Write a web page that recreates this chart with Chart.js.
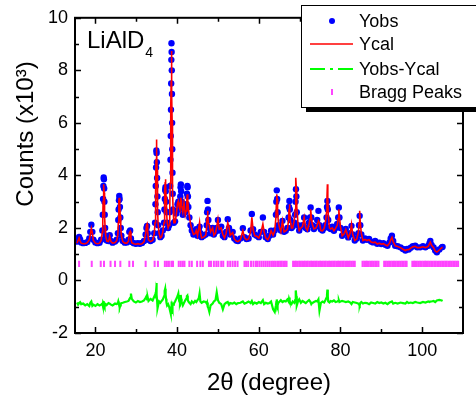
<!DOCTYPE html>
<html>
<head>
<meta charset="utf-8">
<script src="https://cdn.jsdelivr.net/npm/chart.js@4.4.1/dist/chart.umd.min.js"></script>
<style>
    body { margin: 0; background: #fff; }
    canvas { display: block; }
</style>
</head>
<body>
<canvas id="xrdChart" width="476" height="400"></canvas>
<script>
var twoTheta = [
    15.5, 15.75, 16.0, 16.25, 16.5, 17.0, 17.5, 18.0, 18.5, 18.75,
    19.0, 19.25, 19.5, 20.0, 20.5, 21.0, 21.4, 21.7, 21.8, 21.88,
    21.95, 22.02, 22.08, 22.14, 22.2, 22.28, 22.38, 22.5, 22.8, 23.2,
    23.5, 23.8, 24.2, 24.8, 25.2, 25.5, 25.6, 25.68, 25.76, 25.84,
    25.92, 26.0, 26.1, 26.2, 26.35, 26.7, 27.2, 27.7, 28.1, 28.3,
    28.5, 28.7, 28.9, 29.4, 29.9, 30.4, 30.9, 31.4, 31.9, 32.3,
    32.5, 32.65, 32.8, 33.0, 33.5, 34.0, 34.4, 34.6, 34.7, 34.78,
    34.85, 34.92, 34.98, 35.04, 35.1, 35.17, 35.25, 35.35, 35.6, 35.9,
    36.2, 36.5, 36.8, 36.9, 37.0, 37.08, 37.15, 37.22, 37.3, 37.4,
    37.55, 37.8, 38.05, 38.2, 38.3, 38.38, 38.45, 38.5, 38.55, 38.59,
    38.62, 38.66, 38.7, 38.74, 38.78, 38.82, 38.87, 38.93, 39.0, 39.2,
    39.5, 39.8, 40.1, 40.3, 40.5, 40.7, 40.78, 40.85, 40.92, 41.0,
    41.1, 41.4, 41.7, 42.0, 42.2, 42.35, 42.42, 42.5, 42.57, 42.65,
    42.75, 43.0, 43.3, 43.6, 44.0, 44.4, 44.7, 45.0, 45.3, 45.5,
    45.7, 46.0, 46.5, 47.0, 47.25, 47.35, 47.45, 47.55, 47.65, 47.9,
    48.2, 48.7, 49.0, 49.4, 49.7, 50.0, 50.3, 50.8, 51.2, 51.6,
    52.0, 52.4, 52.7, 53.0, 53.6, 54.0, 54.5, 54.9, 55.5, 56.1,
    56.5, 57.0, 57.5, 58.0, 58.3, 58.6, 59.0, 59.5, 60.0, 60.5,
    61.0, 61.3, 61.7, 62.2, 62.6, 63.0, 63.5, 63.9, 64.2, 64.3,
    64.4, 64.5, 64.6, 64.8, 65.1, 65.4, 65.8, 66.2, 66.6, 67.0,
    67.3, 67.4, 67.5, 67.6, 67.7, 68.0, 68.3, 68.7, 68.9, 69.0,
    69.1, 69.2, 69.3, 69.6, 69.9, 70.3, 70.7, 71.1, 71.5, 71.9,
    72.3, 72.55, 72.7, 72.85, 73.1, 73.5, 74.0, 74.3, 74.6, 74.85,
    75.2, 75.6, 76.0, 76.3, 76.6, 76.7, 76.8, 76.9, 77.0, 77.3,
    77.6, 78.0, 78.4, 78.8, 79.2, 79.45, 79.6, 79.75, 80.0, 80.4,
    80.9, 81.3, 81.9, 82.4, 82.7, 83.0, 83.5, 84.0, 84.4, 84.55,
    84.7, 84.85, 85.1, 85.5, 86.0, 86.5, 87.0, 87.5, 88.0, 88.5,
    89.0, 89.5, 90.0, 90.5, 91.0, 91.5, 92.0, 92.3, 92.6, 92.9,
    93.4, 94.0, 94.7, 95.3, 95.9, 96.3, 96.7, 97.2, 97.7, 98.3,
    98.8, 99.5, 100.2, 100.8, 101.5, 101.8, 102.0, 102.3, 102.8, 103.2,
    103.6, 104.2, 104.8, 105.0
];

var yObs = [
    1.48, 1.55, 1.66, 1.56, 1.45, 1.42, 1.43, 1.46, 1.60, 1.85,
    2.12, 1.85, 1.55, 1.45, 1.42, 1.44, 1.55, 1.90, 2.50, 3.10,
    3.60, 3.92, 3.85, 3.50, 3.00, 2.50, 2.00, 1.70, 1.52, 1.50,
    1.72, 1.50, 1.44, 1.48, 1.55, 1.80, 2.30, 2.70, 3.05, 3.22,
    3.10, 2.80, 2.40, 2.00, 1.70, 1.50, 1.44, 1.45, 1.55, 1.85,
    1.90, 1.60, 1.46, 1.42, 1.40, 1.42, 1.40, 1.43, 1.50, 1.75,
    2.00, 2.08, 1.80, 1.55, 1.50, 1.55, 1.80, 2.20, 2.90, 3.60,
    4.30, 4.95, 4.85, 4.50, 3.90, 3.20, 2.60, 2.10, 1.80, 1.65,
    1.70, 1.90, 2.20, 2.70, 3.10, 3.45, 3.55, 3.40, 3.00, 2.60,
    2.20, 2.00, 2.10, 2.60, 3.60, 4.60, 5.50, 6.50, 7.50, 8.40,
    9.03, 8.70, 8.00, 7.10, 6.00, 5.00, 4.10, 3.30, 2.70, 2.20,
    2.25, 2.55, 2.90, 3.00, 2.70, 2.80, 3.20, 3.55, 3.66, 3.40,
    3.00, 2.50, 2.90, 2.60, 2.70, 2.90, 3.30, 3.60, 3.55, 3.20,
    2.80, 2.40, 2.10, 1.90, 1.75, 1.80, 1.95, 1.70, 1.95, 2.05,
    1.80, 1.65, 1.70, 1.75, 2.10, 2.60, 3.03, 2.70, 2.30, 2.00,
    1.80, 2.00, 1.75, 1.85, 2.00, 2.30, 1.90, 2.05, 1.70, 1.65,
    1.85, 2.33, 2.00, 1.75, 1.85, 1.60, 1.52, 1.50, 1.60, 1.99,
    1.65, 1.58, 1.60, 1.90, 2.53, 1.95, 1.75, 1.70, 1.65, 1.85,
    2.40, 1.85, 1.65, 1.58, 1.70, 1.89, 1.75, 1.90, 2.50, 3.00,
    3.43, 3.10, 2.60, 2.10, 2.00, 1.90, 2.27, 1.85, 1.89, 2.00,
    2.40, 2.80, 3.03, 2.70, 2.30, 2.00, 2.05, 2.20, 2.50, 3.00,
    3.47, 3.20, 2.60, 2.10, 1.90, 2.05, 2.10, 2.40, 2.00, 1.95,
    2.20, 2.40, 2.78, 2.40, 2.10, 1.96, 2.05, 2.30, 2.65, 2.10,
    1.95, 1.90, 2.00, 2.10, 2.40, 2.80, 3.03, 2.70, 2.30, 2.00,
    1.96, 2.05, 1.89, 2.00, 2.15, 2.40, 2.78, 2.40, 2.00, 1.70,
    1.80, 1.96, 1.64, 1.80, 2.08, 1.75, 1.52, 1.60, 1.80, 2.10,
    2.46, 2.10, 1.75, 1.52, 1.60, 1.55, 1.58, 1.48, 1.45, 1.50,
    1.40, 1.44, 1.39, 1.42, 1.36, 1.32, 1.45, 1.60, 1.70, 1.50,
    1.32, 1.30, 1.26, 1.20, 1.14, 1.20, 1.18, 1.25, 1.30, 1.32,
    1.26, 1.26, 1.30, 1.26, 1.32, 1.42, 1.50, 1.35, 1.26, 1.14,
    1.07, 1.18, 1.26, 1.28
];

var yCal = [
    1.42, 1.52, 1.62, 1.50, 1.42, 1.40, 1.40, 1.44, 1.55, 1.75,
    1.98, 1.80, 1.52, 1.42, 1.40, 1.42, 1.52, 1.85, 2.40, 3.00,
    3.45, 3.66, 3.60, 3.35, 2.90, 2.45, 2.00, 1.70, 1.50, 1.48,
    1.68, 1.48, 1.42, 1.44, 1.52, 1.75, 2.20, 2.65, 3.00, 3.15,
    3.10, 2.85, 2.45, 2.05, 1.72, 1.48, 1.42, 1.42, 1.50, 1.80,
    1.86, 1.58, 1.44, 1.40, 1.38, 1.40, 1.38, 1.40, 1.47, 1.78,
    2.10, 2.15, 1.85, 1.55, 1.48, 1.52, 1.78, 2.20, 3.00, 3.80,
    4.60, 5.37, 5.30, 4.90, 4.20, 3.40, 2.70, 2.15, 1.78, 1.62,
    1.66, 1.85, 2.20, 2.90, 3.40, 3.75, 3.85, 3.60, 3.20, 2.70,
    2.25, 2.00, 2.10, 2.70, 3.70, 4.70, 5.60, 6.60, 7.60, 8.40,
    8.74, 8.60, 8.00, 7.10, 6.10, 5.10, 4.20, 3.40, 2.80, 2.20,
    2.20, 2.50, 2.95, 3.03, 2.80, 2.70, 2.95, 3.10, 3.15, 3.05,
    2.85, 2.60, 2.97, 2.50, 2.65, 2.80, 3.10, 3.28, 3.25, 3.05,
    2.75, 2.45, 2.15, 1.95, 1.75, 1.78, 1.90, 1.70, 2.00, 2.20,
    1.85, 1.62, 1.65, 1.72, 2.05, 2.40, 2.65, 2.50, 2.20, 2.10,
    1.85, 2.00, 1.72, 1.80, 2.05, 2.33, 1.95, 2.00, 1.75, 1.62,
    1.80, 2.20, 2.05, 1.72, 1.82, 1.58, 1.50, 1.48, 1.55, 1.89,
    1.62, 1.55, 1.58, 1.85, 2.40, 1.95, 1.70, 1.68, 1.62, 1.80,
    2.15, 1.85, 1.62, 1.55, 1.68, 1.89, 1.72, 1.88, 2.40, 2.90,
    3.28, 3.10, 2.60, 2.20, 2.00, 1.85, 2.27, 1.85, 1.89, 1.95,
    2.30, 2.70, 2.90, 2.70, 2.30, 2.00, 2.00, 2.30, 2.70, 3.40,
    3.91, 3.50, 2.80, 2.15, 1.90, 2.00, 2.05, 2.40, 2.00, 1.90,
    2.15, 2.35, 2.71, 2.45, 2.15, 1.96, 2.00, 2.10, 2.27, 2.20,
    1.90, 1.89, 1.98, 2.20, 2.60, 3.20, 3.66, 3.10, 2.50, 2.00,
    1.96, 2.00, 1.89, 1.98, 2.10, 2.35, 2.71, 2.40, 2.05, 1.70,
    1.78, 1.94, 1.62, 1.82, 2.14, 1.75, 1.52, 1.58, 1.85, 2.20,
    2.65, 2.20, 1.80, 1.52, 1.56, 1.52, 1.55, 1.46, 1.44, 1.46,
    1.39, 1.42, 1.38, 1.40, 1.35, 1.32, 1.42, 1.55, 1.64, 1.48,
    1.32, 1.29, 1.25, 1.19, 1.14, 1.18, 1.17, 1.23, 1.28, 1.30,
    1.25, 1.25, 1.28, 1.25, 1.30, 1.40, 1.46, 1.34, 1.25, 1.12,
    1.08, 1.16, 1.25, 1.26
];

var yDiff = [
    -0.84, -0.92, -0.86, -0.83, -0.90, -0.88, -0.95, -0.90, -0.97, -0.85,
    -0.80, -0.96, -0.92, -0.97, -0.90, -0.95, -0.92, -0.88, -0.95, -0.85,
    -0.80, -0.78, -0.90, -1.02, -1.05, -0.98, -0.95, -0.90, -0.93, -0.86,
    -0.88, -0.92, -0.95, -0.88, -0.90, -0.86, -0.80, -0.84, -0.88, -0.92,
    -1.00, -1.02, -0.95, -0.90, -0.86, -0.85, -0.82, -0.80, -0.78, -0.72,
    -0.66, -0.50, -0.70, -0.80, -0.84, -0.78, -0.82, -0.80, -0.76, -0.66,
    -0.60, -0.72, -0.64, -0.78, -0.70, -0.76, -0.62, -0.55, -0.45, -0.60,
    -0.40, -0.10, -0.35, -0.55, -0.75, -0.90, -1.05, -0.95, -0.80, -0.85,
    -0.78, -0.72, -0.60, -0.50, -0.40, -0.32, -0.45, -0.55, -0.70, -0.85,
    -0.95, -0.90, -1.00, -1.10, -1.15, -1.20, -1.05, -1.25, -1.10, -0.95,
    -0.80, -1.00, -1.27, -1.15, -1.05, -1.10, -1.00, -0.95, -0.92, -0.88,
    -0.80, -0.70, -0.60, -0.50, -0.78, -0.85, -0.80, -0.62, -0.55, -0.70,
    -0.82, -0.95, -0.85, -0.75, -0.70, -0.65, -0.60, -0.58, -0.66, -0.74,
    -0.80, -0.85, -0.90, -0.80, -0.86, -0.78, -0.82, -0.75, -0.68, -0.50,
    -0.80, -0.85, -0.80, -0.82, -0.88, -0.84, -0.90, -1.00, -1.05, -1.20,
    -0.95, -0.88, -0.80, -0.75, -0.45, -0.75, -0.85, -0.90, -1.10, -0.90,
    -0.85, -0.82, -0.92, -0.86, -0.88, -0.84, -0.90, -0.86, -0.85, -0.80,
    -0.88, -0.85, -0.80, -0.86, -0.78, -0.90, -0.84, -0.88, -0.82, -0.86,
    -0.75, -0.90, -0.85, -0.88, -0.86, -0.80, -1.10, -1.20, -0.95, -0.82,
    -0.72, -0.88, -0.95, -0.85, -0.80, -0.75, -0.82, -0.78, -0.80, -0.72,
    -0.80, -0.70, -0.65, -0.78, -0.85, -0.90, -0.80, -0.85, -0.75, -0.55,
    -0.38, -0.60, -0.95, -0.80, -0.72, -0.85, -0.78, -0.82, -0.86, -0.80,
    -0.75, -0.80, -0.84, -0.90, -0.86, -0.82, -0.78, -0.80, -0.72, -1.15,
    -0.85, -0.80, -0.84, -0.75, -0.65, -0.55, -0.35, -0.60, -0.80, -0.84,
    -0.78, -0.80, -0.76, -0.82, -0.80, -0.78, -0.75, -0.82, -0.80, -0.78,
    -0.80, -0.82, -0.80, -0.84, -0.90, -0.82, -0.84, -0.86, -0.88, -0.92,
    -0.95, -0.86, -0.82, -0.88, -0.85, -0.86, -0.90, -0.84, -0.86, -0.88,
    -0.82, -0.86, -0.84, -0.88, -0.85, -0.90, -0.84, -0.82, -0.80, -0.88,
    -0.85, -0.88, -0.84, -0.86, -0.88, -0.82, -0.86, -0.84, -0.86, -0.82,
    -0.84, -0.86, -0.82, -0.84, -0.80, -0.82, -0.80, -0.80, -0.78, -0.82,
    -0.76, -0.74, -0.76, -0.78
];

var braggPeaks = [
    16.0, 19.1, 21.3, 22.1, 23.7, 24.8, 26.1, 28.3, 29.2, 32.3,
    34.5, 35.3, 37.0, 37.5, 38.0, 38.6, 39.0, 40.4, 40.9, 41.4,
    41.8, 43.0, 43.6, 44.9, 45.7, 46.3, 47.8, 48.3, 49.0, 49.6,
    50.1, 50.8, 51.3, 52.4, 53.0, 53.6, 54.2, 54.8, 56.5, 56.9,
    57.4, 58.1, 58.7, 59.3, 59.7, 60.2, 60.7, 61.2, 61.7, 62.2,
    62.7, 63.2, 63.6, 64.0, 64.5, 64.9, 65.3, 65.6, 66.0, 66.4,
    66.8, 68.4, 68.8, 69.1, 69.5, 69.9, 70.2, 70.6, 71.0, 71.3,
    71.7, 72.0, 72.4, 72.8, 73.1, 73.5, 73.9, 74.2, 74.6, 75.0,
    75.3, 75.7, 76.1, 76.4, 76.8, 77.2, 77.5, 77.9, 78.3, 78.6,
    79.0, 79.4, 79.7, 80.1, 80.5, 80.8, 81.2, 81.6, 82.0, 82.3,
    82.7, 83.1, 83.5, 85.4, 85.8, 86.2, 86.5, 86.9, 87.3, 87.7,
    88.1, 88.5, 88.9, 89.3, 90.7, 91.1, 91.5, 91.9, 92.3, 92.7,
    93.1, 93.5, 93.9, 94.3, 94.7, 95.1, 95.5, 95.9, 96.2, 97.6,
    98.0, 98.3, 98.7, 99.1, 99.5, 99.9, 100.3, 100.7, 101.0, 101.4,
    101.8, 102.2, 102.6, 103.0, 103.3, 103.7, 104.1, 104.5, 104.9, 105.3,
    105.7, 106.0, 106.4, 106.8, 107.2, 107.6, 108.0, 108.4, 108.8
];
var braggLevel = 0.63;

var xMajorTicks = [20, 40, 60, 80, 100];
var xMinorTicks = [30, 50, 70, 90];
var yMajorTicks = [-2, 0, 2, 4, 6, 8, 10];
var yMinorTicks = [-1, 1, 3, 5, 7, 9];

var legendItems = ["Yobs", "Ycal", "Yobs-Ycal", "Bragg Peaks"];

var fontName = "'Liberation Sans', Arial, sans-serif";

function toPoints(xs, ys) {
    return xs.map(function (x, i) { return { x: x, y: ys[i] }; });
}

var framePlugin = {
    id: "frame",
    afterDraw: function (chart) {
        var ctx = chart.ctx;
        var area = chart.chartArea;
        var xs = chart.scales.x;
        var ys = chart.scales.y;

        ctx.save();
        ctx.strokeStyle = "#000";
        ctx.lineWidth = 2;
        ctx.strokeRect(area.left, area.top, area.right - area.left, area.bottom - area.top);

        ctx.lineWidth = 1.5;
        ctx.beginPath();
        xMajorTicks.concat(xMinorTicks).forEach(function (v) {
            var len = xMajorTicks.indexOf(v) >= 0 ? 6 : 4;
            var px = Math.round(xs.getPixelForValue(v)) + 0.5;
            ctx.moveTo(px, area.bottom);
            ctx.lineTo(px, area.bottom - len);
            ctx.moveTo(px, area.top);
            ctx.lineTo(px, area.top + len);
        });
        yMajorTicks.concat(yMinorTicks).forEach(function (v) {
            var len = yMajorTicks.indexOf(v) >= 0 ? 6 : 4;
            var py = Math.round(ys.getPixelForValue(v)) + 0.5;
            ctx.moveTo(area.left, py);
            ctx.lineTo(area.left + len, py);
            ctx.moveTo(area.right, py);
            ctx.lineTo(area.right - len, py);
        });
        ctx.stroke();

        // axis titles
        ctx.fillStyle = "#000";
        ctx.font = "24px " + fontName;
        ctx.textAlign = "center";
        ctx.textBaseline = "alphabetic";
        ctx.fillText("2\u03b8 (degree)", (area.left + area.right) / 2, 390);
        ctx.save();
        ctx.translate(33, 134);
        ctx.rotate(-Math.PI / 2);
        ctx.fillText("Counts (x10\u00b3)", 0, 0);
        ctx.restore();

        // sample name
        ctx.textAlign = "left";
        ctx.font = "24px " + fontName;
        ctx.fillText("LiAlD", 87, 48);
        var w = ctx.measureText("LiAlD").width;
        ctx.font = "14px " + fontName;
        ctx.fillText("4", 87 + w + 1, 57);

        // legend box with shadow
        ctx.fillStyle = "#000";
        ctx.fillRect(306, 10, 200, 102);
        ctx.fillStyle = "#fff";
        ctx.fillRect(301, 5, 200, 102);
        ctx.lineWidth = 1;
        ctx.strokeRect(301.5, 5.5, 200, 102);

        var rows = [21, 44, 69, 92];
        ctx.fillStyle = "#0000ff";
        ctx.beginPath();
        ctx.arc(332, rows[0], 3, 0, Math.PI * 2);
        ctx.fill();

        ctx.strokeStyle = "#ff0000";
        ctx.lineWidth = 1.5;
        ctx.beginPath();
        ctx.moveTo(310, rows[1]);
        ctx.lineTo(353, rows[1]);
        ctx.stroke();

        ctx.strokeStyle = "#00ff00";
        ctx.lineWidth = 2;
        ctx.setLineDash([15, 5, 3, 5]);
        ctx.beginPath();
        ctx.moveTo(310, rows[2]);
        ctx.lineTo(353, rows[2]);
        ctx.stroke();
        ctx.setLineDash([]);

        ctx.strokeStyle = "#ff44ff";
        ctx.lineWidth = 2;
        ctx.beginPath();
        ctx.moveTo(332, rows[3] - 3);
        ctx.lineTo(332, rows[3] + 3);
        ctx.stroke();

        ctx.fillStyle = "#000";
        ctx.font = "18px " + fontName;
        ctx.textBaseline = "middle";
        legendItems.forEach(function (t, i) {
            ctx.fillText(t, 359, rows[i] + 1);
        });
        ctx.restore();
    }
};

var xrdCanvas = document.getElementById("xrdChart");

var xrdChart = new Chart(xrdCanvas, {
    type: "scatter",
    data: {
        datasets: [{
            label: "Ycal",
            data: toPoints(twoTheta, yCal),
            showLine: true,
            borderColor: "#ff0000",
            borderWidth: 1.6,
            pointRadius: 0,
            tension: 0
        }, {
            label: "Yobs",
            data: toPoints(twoTheta, yObs),
            showLine: false,
            pointRadius: 3.2,
            pointBorderWidth: 0,
            pointBackgroundColor: "#0000ff",
            backgroundColor: "#0000ff"
        }, {
            label: "Yobs-Ycal",
            data: toPoints(twoTheta, yDiff),
            showLine: true,
            borderColor: "#00ff00",
            borderWidth: 2.2,
            pointRadius: 0,
            tension: 0
        }, {
            label: "Bragg Peaks",
            data: braggPeaks.map(function (x) { return { x: x, y: braggLevel }; }),
            showLine: false,
            pointStyle: "line",
            rotation: 90,
            pointRadius: 3.2,
            pointBorderWidth: 2,
            pointBorderColor: "#ff44ff",
            borderColor: "#ff44ff"
        }]
    },
    options: {
        responsive: false,
        animation: false,
        devicePixelRatio: 1,
        layout: { padding: { top: 16, right: 13, left: 0, bottom: 0 } },
        plugins: {
            legend: { display: false },
            tooltip: { enabled: false }
        },
        scales: {
            x: {
                type: "linear",
                min: 15,
                max: 110,
                grid: { display: false, drawTicks: false },
                border: { display: false },
                afterBuildTicks: function (scale) {
                    scale.ticks = xMajorTicks.map(function (v) { return { value: v }; });
                },
                afterFit: function (scale) { scale.height = 67; },
                ticks: {
                    padding: 7,
                    color: "#000",
                    font: { family: fontName, size: 18 }
                }
            },
            y: {
                min: -2,
                max: 10,
                grid: { display: false, drawTicks: false },
                border: { display: false },
                afterBuildTicks: function (scale) {
                    scale.ticks = yMajorTicks.map(function (v) { return { value: v }; });
                },
                afterFit: function (scale) { scale.width = 75; },
                ticks: {
                    padding: 7,
                    color: "#000",
                    font: { family: fontName, size: 18 }
                }
            }
        }
    },
    plugins: [framePlugin]
});
</script>
</body>
</html>
